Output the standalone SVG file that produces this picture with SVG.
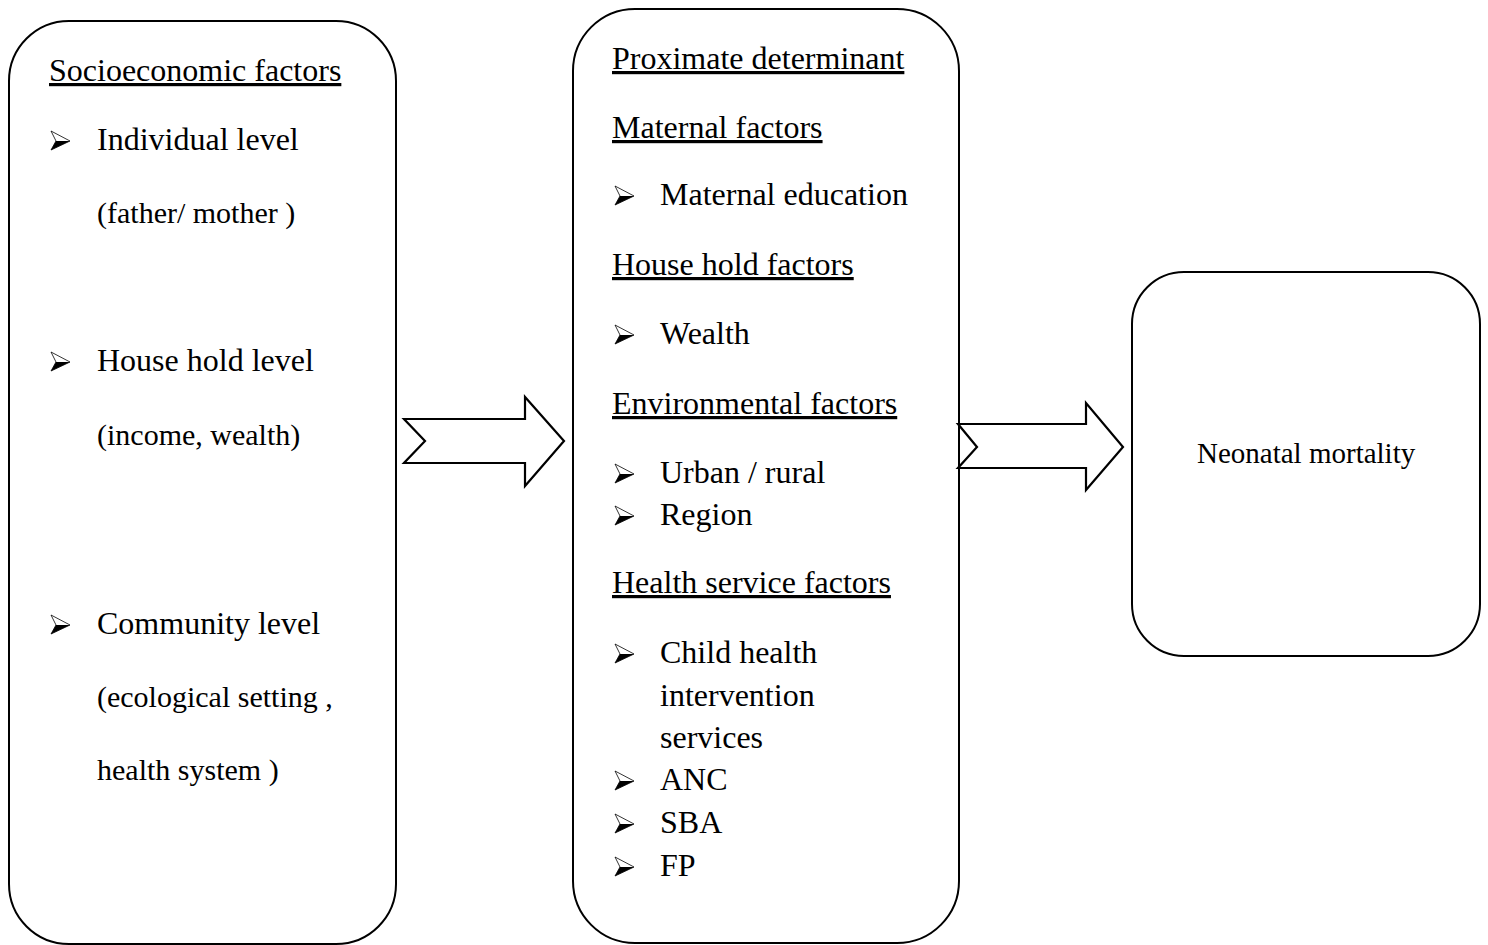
<svg xmlns="http://www.w3.org/2000/svg" width="1488" height="945" viewBox="0 0 1488 945">
<defs>
<style>
.box{fill:#fff;stroke:#000;stroke-width:2}
.arr{fill:#fff;stroke:#000;stroke-width:2.2;stroke-linejoin:miter}
.t{font-family:"Liberation Serif","Times New Roman",serif;font-size:32px;fill:#000}
.s{font-size:30px}
.h{text-decoration:underline}
.n{font-family:"Liberation Serif","Times New Roman",serif;font-size:29px;fill:#000}
.bo{fill:#fff;stroke:#000;stroke-width:0.8}
.bf{fill:#000}
</style>
<g id="bullet">
<polygon class="bo" points="0,-19 19,-9 0,0 5,-9"/>
<polygon class="bf" points="5,-9 19,-9 0,0"/>
</g>
</defs>
<rect width="1488" height="945" fill="#fff"/>
<g id="socioeconomic">
<rect class="box" x="9" y="21" width="387" height="923" rx="60" ry="60"/>
<text class="t h" x="49" y="81">Socioeconomic factors</text>
<use href="#bullet" x="51" y="150"/>
<text class="t" x="97" y="150">Individual level</text>
<text class="t s" x="97" y="223">(father/ mother )</text>
<use href="#bullet" x="51" y="371"/>
<text class="t" x="97" y="371">House hold level</text>
<text class="t s" x="97" y="445">(income, wealth)</text>
<use href="#bullet" x="51" y="634"/>
<text class="t" x="97" y="634">Community level</text>
<text class="t s" x="97" y="707">(ecological setting ,</text>
<text class="t s" x="97" y="780">health system )</text>
</g>
<g id="proximate">
<rect class="box" x="573" y="9" width="386" height="934" rx="62" ry="62"/>
<text class="t h" x="612" y="69">Proximate determinant</text>
<text class="t h" x="612" y="138">Maternal factors</text>
<use href="#bullet" x="615" y="205"/>
<text class="t" x="660" y="205">Maternal education</text>
<text class="t h" x="612" y="275">House hold factors</text>
<use href="#bullet" x="615" y="344"/>
<text class="t" x="660" y="344">Wealth</text>
<text class="t h" x="612" y="414">Environmental factors</text>
<use href="#bullet" x="615" y="483"/>
<text class="t" x="660" y="483">Urban / rural</text>
<use href="#bullet" x="615" y="525"/>
<text class="t" x="660" y="525">Region</text>
<text class="t h" x="612" y="593">Health service factors</text>
<use href="#bullet" x="615" y="663"/>
<text class="t" x="660" y="663">Child health</text>
<text class="t" x="660" y="706">intervention</text>
<text class="t" x="660" y="748">services</text>
<use href="#bullet" x="615" y="790"/>
<text class="t" x="660" y="790">ANC</text>
<use href="#bullet" x="615" y="833"/>
<text class="t" x="660" y="833">SBA</text>
<use href="#bullet" x="615" y="876"/>
<text class="t" x="660" y="876">FP</text>
</g>
<g id="outcome">
<rect class="box" x="1132" y="272" width="348" height="384" rx="52" ry="52"/>
<text class="n" x="1197" y="463">Neonatal mortality</text>
</g>
<g id="connectors">
<polygon class="arr" points="404,419 525,419 525,397 564,441 525,486 525,463 404,463 425,441"/>
<polygon class="arr" points="958,424 1086,424 1086,403 1123,447 1086,490 1086,468 958,468 977,447"/>
</g>
</svg>
